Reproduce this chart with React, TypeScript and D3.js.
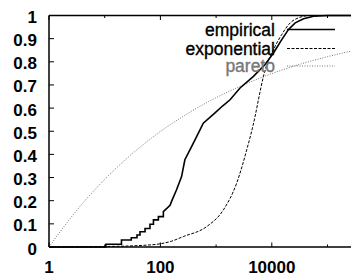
import React from 'react';
import * as d3 from 'd3';

// values (x is on a log scale)
const empiricalX = [1, 10.5, 10.5, 20, 20, 30, 30, 38, 38, 43, 43, 53, 53, 65, 65, 75, 75, 92, 92, 113, 113, 149,
  158, 195, 240, 275, 363, 447, 589, 955, 1320, 1780, 2690, 4680, 7590, 10700, 15100, 20000, 26300, 37200, 56000, 100000, 400000];
const empiricalY = [0, 0, 0.012, 0.012, 0.03, 0.03, 0.04, 0.04, 0.052, 0.052, 0.066, 0.066, 0.08, 0.08, 0.098, 0.098, 0.117, 0.117, 0.131, 0.131, 0.153, 0.18,
  0.196, 0.247, 0.304, 0.377, 0.434, 0.477, 0.535, 0.579, 0.61, 0.636, 0.687, 0.737, 0.788, 0.838, 0.896, 0.94, 0.968, 0.986, 0.997, 1, 1];

const exponentialX = [1, 10, 65, 100, 158, 257, 676, 1350, 2340, 3550, 5010, 5750, 7080, 11500, 15100, 21400, 30200, 49000, 100000, 400000];
const exponentialY = [0, 0.002, 0.009, 0.014, 0.025, 0.045, 0.088, 0.16, 0.276, 0.42, 0.564, 0.636, 0.737, 0.867, 0.918, 0.968, 0.99, 1, 1, 1];

const paretoX = [1, 3.16, 10, 31.6, 100, 316, 1000, 3160, 10000, 31600, 100000, 316000, 400000];
const paretoY = [0, 0.159, 0.292, 0.404, 0.499, 0.578, 0.645, 0.701, 0.749, 0.789, 0.822, 0.85, 0.855];

const yTicks = [0, 0.1, 0.2, 0.3, 0.4, 0.5, 0.6, 0.7, 0.8, 0.9, 1];
const xTicks = [1, 10, 100, 1000, 10000, 100000];
const xLabels = ['1', '', '100', '', '10000', ''];

const legendNames = ['empirical', 'exponential', 'pareto'];

const W = 351;
const H = 276;
const left = 49, top = 15.5, bottom = 247;
const decade = 55.7;

const App = () => {
  const x = d3.scaleLog().domain([1, Math.pow(10, 5.6)]).range([left, left + decade * 5.6]);
  const y = d3.scaleLinear().domain([0, 1]).range([bottom, top]);
  const right = x.range()[1];

  const line = d3.line<[number, number]>()
    .x(d => x(d[0]))
    .y(d => y(d[1]));
  const smooth = d3.line<[number, number]>()
    .x(d => x(d[0]))
    .y(d => y(d[1]))
    .curve(d3.curveMonotoneX);

  const emp = empiricalX.map((v, i) => [v, empiricalY[i]] as [number, number]);
  const expo = exponentialX.map((v, i) => [v, exponentialY[i]] as [number, number]);
  const par = paretoX.map((v, i) => [v, paretoY[i]] as [number, number]);

  const styles = [
    { stroke: '#000', width: 1.6, dash: undefined, text: '#000' },
    { stroke: '#000', width: 1, dash: '3,1.5', text: '#000' },
    { stroke: '#777', width: 1, dash: '1,1.5', text: '#777' },
  ];
  const legendY = [29.5, 48.5, 66];

  return (
    <svg width={W} height={H} style={{ position: 'absolute', left: 0, top: 0, background: '#fff' }}
      fontFamily="'Liberation Sans', Arial, sans-serif">
      <rect width={W} height={H} fill="#fff" />
      {/* curves */}
      <path d={smooth(par) || ''} fill="none" stroke={styles[2].stroke} strokeWidth={styles[2].width} strokeDasharray={styles[2].dash} />
      <path d={smooth(expo) || ''} fill="none" stroke={styles[1].stroke} strokeWidth={styles[1].width} strokeDasharray={styles[1].dash} />
      <path d={line(emp) || ''} fill="none" stroke={styles[0].stroke} strokeWidth={styles[0].width} />

      {/* border */}
      <line x1={left} x2={right} y1={top} y2={top} stroke="#000" strokeWidth={1.5} />
      <line x1={left} x2={right} y1={bottom} y2={bottom} stroke="#000" strokeWidth={1.5} />
      <line x1={left} x2={left} y1={top} y2={bottom} stroke="#000" strokeWidth={1.5} />

      {/* y ticks */}
      {yTicks.map(t => (
        <g key={'y' + t}>
          <line x1={left} x2={left + 5} y1={y(t)} y2={y(t)} stroke="#000" strokeWidth={1} />
          <text x={37} y={y(t) + 7.5} textAnchor="end" fontSize={17} fontWeight="bold">{t === 0 || t === 1 ? String(t) : t.toFixed(1)}</text>
        </g>
      ))}

      {/* x ticks */}
      {xTicks.map((t, i) => {
        const len = xLabels[i] ? 4.5 : 2.5;
        return (
          <g key={'x' + t}>
            <line x1={x(t)} x2={x(t)} y1={bottom} y2={bottom - len} stroke="#000" strokeWidth={1} />
            <line x1={x(t)} x2={x(t)} y1={top} y2={top + len} stroke="#000" strokeWidth={1} />
            {xLabels[i] && (
              <text x={x(t)} y={273} textAnchor="middle" fontSize={17} fontWeight="bold">{xLabels[i]}</text>
            )}
          </g>
        );
      })}

      {/* legend */}
      {legendNames.map((name, i) => (
        <g key={name}>
          <text x={275} y={legendY[i] + 6} textAnchor="end" fontSize={17.5} fill={styles[i].text}
            stroke={styles[i].text} strokeWidth={0.35}>{name}</text>
          <line x1={287} x2={335} y1={legendY[i]} y2={legendY[i]} stroke={styles[i].stroke}
            strokeWidth={styles[i].width} strokeDasharray={styles[i].dash} />
        </g>
      ))}
    </svg>
  );
};

export default App;
